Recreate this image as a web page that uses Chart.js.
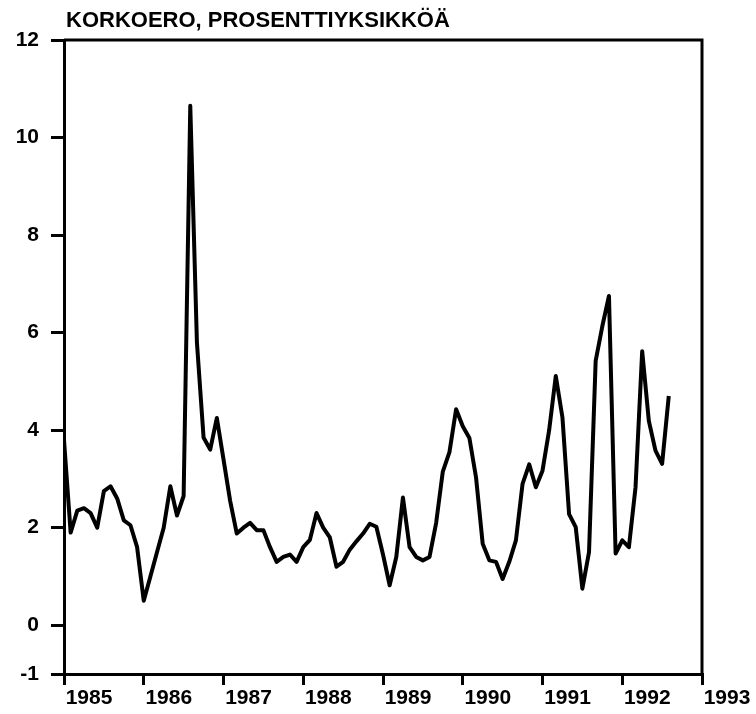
<!DOCTYPE html>
<html>
<head>
<meta charset="utf-8">
<script src="https://cdn.jsdelivr.net/npm/chart.js@4"></script>
<style>
  html, body { margin: 0; padding: 0; background: #fff; }
  #wrap { width: 756px; height: 714px; }
</style>
</head>
<body>
<div id="wrap"><canvas id="chart" width="756" height="714"></canvas></div>
<script>
// Korkoero (interest rate spread), monthly 1985-1992, percentage points
const title = 'KORKOERO, PROSENTTIYKSIKKÖÄ';
const startYear = 1985;
const yearTicks = [1985, 1986, 1987, 1988, 1989, 1990, 1991, 1992, 1993];
const yTicks = [-1, 0, 2, 4, 6, 8, 10, 12];
const spread = [
    3.8, 1.9, 2.35, 2.4, 2.3, 2.0, 2.75, 2.85, 2.6, 2.15, 2.05, 1.6,     // 1985
    0.5, 1.0, 1.5, 2.0, 2.85, 2.25, 2.65, 10.65, 5.8, 3.85, 3.6, 4.25,   // 1986
    3.4, 2.55, 1.88, 2.0, 2.1, 1.95, 1.95, 1.6, 1.3, 1.4, 1.45, 1.3,     // 1987
    1.6, 1.75, 2.3, 2.0, 1.8, 1.2, 1.3, 1.55, 1.72, 1.88, 2.08, 2.02,    // 1988
    1.45, 0.82, 1.4, 2.62, 1.6, 1.4, 1.33, 1.4, 2.1, 3.15, 3.55, 4.43,   // 1989
    4.08, 3.84, 3.03, 1.67, 1.33, 1.3, 0.95, 1.3, 1.74, 2.9, 3.3, 2.83,  // 1990
    3.17, 4.0, 5.11, 4.26, 2.28, 2.01, 0.75, 1.5, 5.42, 6.13, 6.75, 1.47,// 1991
    1.74, 1.6, 2.83, 5.62, 4.19, 3.58, 3.31, 4.7                         // 1992
];

const points = spread.map((v, i) => ({ x: i, y: v }));
const font = { family: '"Liberation Sans", Arial, sans-serif', size: 21, weight: 'bold' };

// title above the plot + top/right frame lines
const framePlugin = {
    id: 'frame',
    afterDraw(chart) {
        const { ctx, chartArea: a } = chart;
        ctx.save();
        ctx.strokeStyle = '#000';
        ctx.lineWidth = 3;
        ctx.beginPath();
        ctx.moveTo(a.left, a.top);
        ctx.lineTo(a.right, a.top);
        ctx.lineTo(a.right, a.bottom);
        ctx.stroke();
        ctx.fillStyle = '#000';
        ctx.font = 'bold 22px "Liberation Sans", Arial, sans-serif';
        ctx.textBaseline = 'alphabetic';
        ctx.fillText(title, a.left + 2, 27);
        ctx.restore();
    }
};

new Chart(document.getElementById('chart'), {
    type: 'line',
    data: {
        datasets: [{
            data: points,
            borderColor: '#000',
            borderWidth: 4,
            borderJoinStyle: 'round',
            pointRadius: 0,
            tension: 0,
            fill: false
        }]
    },
    options: {
        responsive: false,
        animation: false,
        layout: { padding: { left: 0, top: 40, right: 54, bottom: 0 } },
        plugins: { legend: { display: false }, tooltip: { enabled: false } },
        scales: {
            x: {
                type: 'linear',
                min: 0,
                max: (yearTicks.length - 1) * 12,
                afterBuildTicks: s => { s.ticks = yearTicks.map(y => ({ value: (y - startYear) * 12 })); },
                afterFit: s => { s.height = 40; },
                ticks: {
                    color: '#000',
                    font: font,
                    labelOffset: 25,
                    padding: 1,
                    maxRotation: 0,
                    autoSkip: false,
                    callback: v => String(startYear + v / 12)
                },
                grid: { drawOnChartArea: false, color: '#000', lineWidth: 3, tickLength: 11 },
                border: { color: '#000', width: 3 }
            },
            y: {
                min: -1,
                max: 12,
                afterBuildTicks: s => { s.ticks = yTicks.map(v => ({ value: v })); },
                afterFit: s => { s.width = 64; },
                ticks: { color: '#000', font: font, padding: 12 },
                grid: { drawOnChartArea: false, color: '#000', lineWidth: 3, tickLength: 13 },
                border: { color: '#000', width: 3 }
            }
        }
    },
    plugins: [framePlugin]
});
</script>
</body>
</html>
